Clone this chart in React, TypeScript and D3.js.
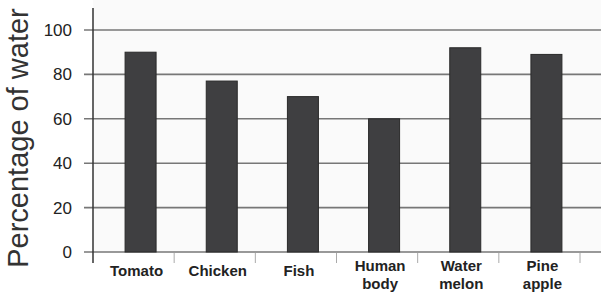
import { scaleBand, scaleLinear } from "d3";

const width = 601;
const height = 294;

const categories = ["Tomato", "Chicken", "Fish", "Human body", "Water melon", "Pine apple"];
const labelLines = [["Tomato"], ["Chicken"], ["Fish"], ["Human", "body"], ["Water", "melon"], ["Pine", "apple"]];
const water = [90, 77, 70, 60, 92, 89];
const yTicks = [0, 20, 40, 60, 80, 100];

const axisX = 93;
const plotRight = 601;
const barWidth = 31;

export default function App() {
  const x = scaleBand<string>().domain(categories).range([93, 580]);
  const y = scaleLinear().domain([0, 100]).range([252, 30]);
  const bw = x.bandwidth();

  return (
    <svg
      width={width}
      height={height}
      viewBox={`0 0 ${width} ${height}`}
      style={{ position: "absolute", left: 0, top: 0, background: "#fff" }}
      fontFamily="Liberation Sans, Arial, sans-serif"
    >
      <rect x={axisX} y={0} width={plotRight - axisX} height={y(0)} fill="#fafafa" />
      {yTicks.map((t) => (
        <g key={t}>
          <line x1={84} x2={plotRight} y1={y(t)} y2={y(t)} stroke="#777" strokeWidth={1.6} />
          <text x={72} y={y(t)} dy="0.35em" textAnchor="end" fontSize={17} fill="#222">
            {t}
          </text>
        </g>
      ))}
      {categories.map((c, i) => (
        <rect
          key={c}
          x={(x(c) ?? 0) + bw / 2 + 7 - barWidth / 2}
          y={y(water[i])}
          width={barWidth}
          height={y(0) - y(water[i])}
          fill="#3f3f41"
          stroke="#2a2a2a"
          strokeWidth={1}
        />
      ))}
      <line x1={axisX} x2={axisX} y1={8} y2={263} stroke="#333" strokeWidth={1.5} />
      {categories.map((c) => (
        <line key={c} x1={(x(c) ?? 0) + bw} x2={(x(c) ?? 0) + bw} y1={253} y2={263} stroke="#aaa" strokeWidth={1} />
      ))}
      {categories.map((c, i) => {
        const lines = labelLines[i];
        const cx = (x(c) ?? 0) + bw / 2 + 3;
        return (
          <text key={c} x={cx} textAnchor="middle" fontSize={15} fontWeight="bold" fill="#222">
            {lines.map((l, j) => (
              <tspan key={l} x={cx} y={lines.length === 1 ? 276 : 271 + j * 18}>
                {l}
              </tspan>
            ))}
          </text>
        );
      })}
      <text
        transform={`translate(28, 138) rotate(-90)`}
        textAnchor="middle"
        fontSize={29}
        fill="#333"
      >
        Percentage of water
      </text>
    </svg>
  );
}
